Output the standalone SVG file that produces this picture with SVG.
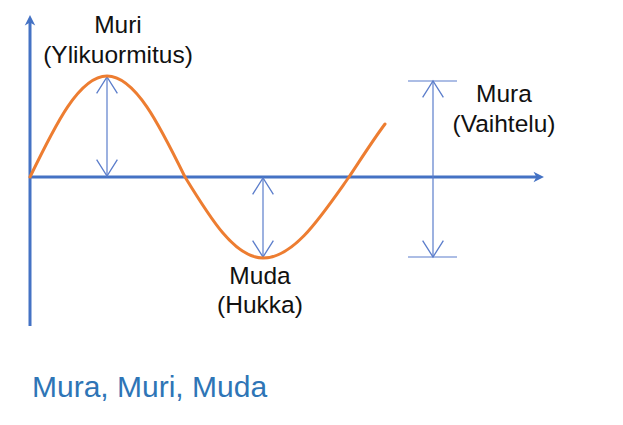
<svg xmlns="http://www.w3.org/2000/svg" width="623" height="425" viewBox="0 0 623 425">
<defs>
<style>
.axis{stroke:#4472C4;stroke-width:3;fill:none}
.dim{stroke:#5B7DCB;stroke-width:1.2;fill:none}
.curve{stroke:#ED7D31;stroke-width:3;fill:none;stroke-linecap:round}
.lbl{font-family:"Liberation Sans",Arial,sans-serif;font-size:24.5px;fill:#111;text-anchor:middle}
.title{font-family:"Liberation Sans",Arial,sans-serif;font-size:30px;fill:#2E75B6}
</style>
<marker id="axHead" markerUnits="userSpaceOnUse" markerWidth="14" markerHeight="14" viewBox="-10 -6 12 12" refX="-6" refY="0" orient="auto">
<path d="M0,0 L-9,-4.5 L-6.5,0 L-9,4.5 Z" fill="#4472C4"/>
</marker>
<marker id="vHead" markerUnits="userSpaceOnUse" markerWidth="20" markerHeight="24" viewBox="-16 -11 18 22" refX="0" refY="0" orient="auto-start-reverse">
<path d="M-15,-9.5 L0,0 L-15,9.5" fill="none" stroke="#5B7DCB" stroke-width="1.2"/>
</marker>
</defs>
<g id="connectors">
<line class="axis" x1="30" y1="326" x2="30" y2="22" marker-end="url(#axHead)"/>
<line class="axis" x1="30" y1="177" x2="537" y2="177" marker-end="url(#axHead)"/>
<line class="dim" x1="107" y1="77" x2="107" y2="176" marker-start="url(#vHead)" marker-end="url(#vHead)"/>
<line class="dim" x1="263" y1="178" x2="263" y2="257" marker-start="url(#vHead)" marker-end="url(#vHead)"/>
<line class="dim" x1="433" y1="81" x2="433" y2="257" marker-start="url(#vHead)" marker-end="url(#vHead)"/>
<line class="dim" x1="408" y1="81" x2="457" y2="81"/>
<line class="dim" x1="408" y1="257" x2="457" y2="257"/>
</g>
<g id="wave">
<path class="curve" d="M30,177 C55.1,125.3 79.1,76 107,76 C135.2,76 159.6,125.3 185,177 C210.4,218.5 234.8,258 263,258 C294.1,258 321,216.5 349,177 C361,159 373,140 385,124"/>
</g>
<g id="muri">
<text class="lbl" x="118" y="33">Muri</text>
<text class="lbl" x="118" y="63">(Ylikuormitus)</text>
</g>
<g id="mura">
<text class="lbl" x="504" y="102">Mura</text>
<text class="lbl" x="504" y="132">(Vaihtelu)</text>
</g>
<g id="muda">
<text class="lbl" x="260" y="284">Muda</text>
<text class="lbl" x="260" y="313">(Hukka)</text>
</g>
<g id="title">
<text class="title" x="32" y="397">Mura, Muri, Muda</text>
</g>
</svg>
